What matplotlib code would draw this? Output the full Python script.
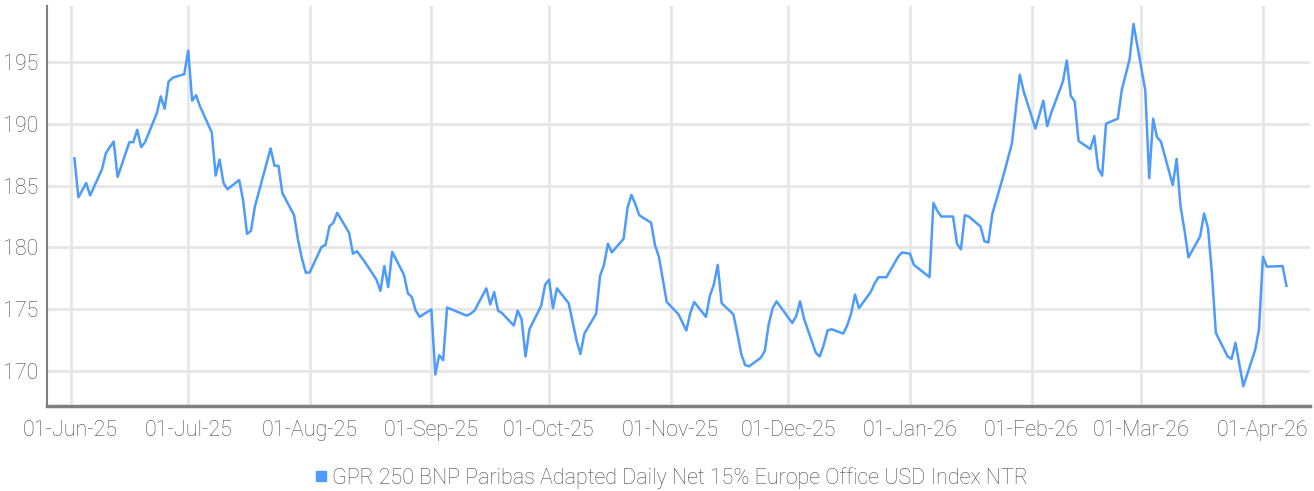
import matplotlib
matplotlib.use("Agg")
import matplotlib.pyplot as plt
import matplotlib.dates as mdates
import pandas as pd

series_name = "GPR 250 BNP Paribas Adapted Daily Net 15% Europe Office USD Index NTR"
start_date = "2025-06-01"

# days after 2025-06-01 for each observation
day_offsets = [1, 2, 4, 5, 8, 9, 10, 11, 12, 15, 16, 17, 18, 19, 22, 23, 24, 25, 26, 29,
               30, 31, 32, 33, 36, 37, 38, 39, 40, 43, 44, 45, 46, 47, 51, 52, 53, 54, 57, 58,
               59, 60, 61, 64, 65, 66, 67, 68, 71, 72, 73, 75, 78, 79, 80, 81, 82, 85, 86, 87,
               88, 89, 92, 93, 94, 95, 96, 101, 102, 103, 106, 107, 108, 109, 110, 113, 114, 115, 116, 117,
               120, 121, 122, 123, 124, 127, 129, 130, 131, 134, 135, 136, 137, 138, 141, 142, 143, 144, 145, 148,
               149, 150, 152, 155, 157, 158, 159, 162, 163, 164, 165, 166, 169, 170, 171, 172, 173, 176, 177, 178,
               179, 180, 184, 185, 186, 187, 190, 191, 192, 193, 194, 197, 198, 199, 200, 201, 204, 205, 206, 208,
               211, 212, 214, 215, 219, 220, 221, 222, 225, 226, 227, 228, 229, 232, 233, 234, 235, 238, 240, 242,
               243, 246, 248, 249, 250, 253, 254, 255, 256, 257, 260, 261, 262, 263, 264, 267, 268, 270, 271, 274,
               275, 276, 277, 278, 281, 282, 283, 284, 285, 288, 289, 290, 291, 292, 295, 296, 297, 299, 302, 303,
               304, 305, 309, 310]

index_values = [187.2, 184.05, 185.2, 184.2, 186.3, 187.6, 188.1, 188.55, 185.7, 188.5, 188.5, 189.5, 188.1, 188.5, 190.85, 192.2, 191.2, 193.4, 193.7, 194.0,
                195.9, 191.85, 192.3, 191.4, 189.3, 185.8, 187.1, 185.2, 184.7, 185.45, 183.8, 181.1, 181.35, 183.3, 188.0, 186.6, 186.6, 184.4, 182.6, 180.6,
                179.1, 177.95, 178.0, 180.05, 180.2, 181.7, 182.0, 182.8, 181.2, 179.5, 179.7, 178.85, 177.4, 176.5, 178.5, 176.8, 179.65, 177.8, 176.3, 176.0,
                174.9, 174.4, 175.0, 169.75, 171.3, 170.9, 175.15, 174.5, 174.65, 174.9, 176.7, 175.4, 176.4, 174.9, 174.7, 173.7, 174.9, 174.2, 171.2, 173.4,
                175.3, 177.0, 177.4, 175.1, 176.7, 175.5, 172.5, 171.4, 173.05, 174.65, 177.7, 178.6, 180.3, 179.6, 180.7, 183.2, 184.25, 183.5, 182.6, 182.0,
                180.2, 179.25, 175.6, 174.6, 173.3, 174.7, 175.6, 174.4, 176.1, 177.0, 178.6, 175.5, 174.6, 173.05, 171.4, 170.5, 170.4, 171.1, 171.65, 173.8,
                175.1, 175.65, 173.9, 174.45, 175.65, 174.25, 171.5, 171.2, 172.1, 173.3, 173.4, 173.05, 173.7, 174.65, 176.2, 175.1, 176.4, 177.1, 177.6, 177.6,
                179.25, 179.6, 179.5, 178.6, 177.6, 183.6, 182.95, 182.5, 182.5, 180.3, 179.85, 182.6, 182.5, 181.7, 180.5, 180.4, 182.7, 186.0, 188.4, 193.95,
                192.6, 189.6, 191.85, 189.8, 190.85, 193.4, 195.1, 192.25, 191.8, 188.6, 187.95, 189.0, 186.4, 185.8, 190.0, 190.4, 192.7, 195.2, 198.05, 192.7,
                185.6, 190.4, 188.9, 188.55, 185.05, 187.15, 183.3, 181.4, 179.2, 180.9, 182.75, 181.55, 177.9, 173.1, 171.2, 171.0, 172.3, 168.8, 171.7, 173.4,
                179.25, 178.45, 178.5, 176.9]

month_ticks = ["2025-06-01", "2025-07-01", "2025-08-01", "2025-09-01", "2025-10-01", "2025-11-01",
               "2025-12-01", "2026-01-01", "2026-02-01", "2026-03-01", "2026-04-01"]
y_ticks = [170, 175, 180, 185, 190, 195]

dates = pd.Timestamp(start_date) + pd.to_timedelta(day_offsets, unit="D")

line_color = "#4d9bfb"
text_color = "#4a4a4a"
grid_color = "#e6e6e6"

plt.rcParams['font.family'] = ['Roboto', 'DejaVu Sans']
plt.rcParams['font.weight'] = 'light'

fig = plt.figure(figsize=(13.14, 4.91), dpi=100)
ax = fig.add_axes([47 / 1314, 85 / 491, 1263 / 1314, 400 / 491])

ax.plot(dates, index_values, color=line_color, linewidth=1.8, label=series_name)

ax.set_xlim(pd.Timestamp("2025-05-26"), pd.Timestamp("2026-04-13"))
ax.set_ylim(167.2, 199.5)

ax.set_xticks(pd.to_datetime(month_ticks))
ax.xaxis.set_major_formatter(mdates.DateFormatter("%d-%b-%y"))
ax.set_yticks(y_ticks)

ax.grid(True, color=grid_color, linewidth=2)
ax.set_axisbelow(True)
ax.tick_params(axis="both", length=0, labelsize=15.5, labelcolor=text_color)
ax.tick_params(axis="x", pad=10)
ax.tick_params(axis="y", pad=6)

for s in ["top", "right"]:
    ax.spines[s].set_visible(False)
ax.spines["left"].set_color("#808080")
ax.spines["left"].set_linewidth(1.5)
ax.spines["bottom"].set_color("#808080")
ax.spines["bottom"].set_linewidth(2.5)

handle = plt.Line2D([], [], marker="s", linestyle="none", markersize=7,
                    markerfacecolor=line_color, markeredgecolor=line_color)
fig.legend([handle], [series_name], loc="center", bbox_to_anchor=(0.51, 13 / 491),
           frameon=False, fontsize=15.5, labelcolor=text_color, handletextpad=0.1,
           handlelength=0.8)

fig.savefig("out.png", dpi=100, facecolor="white")
